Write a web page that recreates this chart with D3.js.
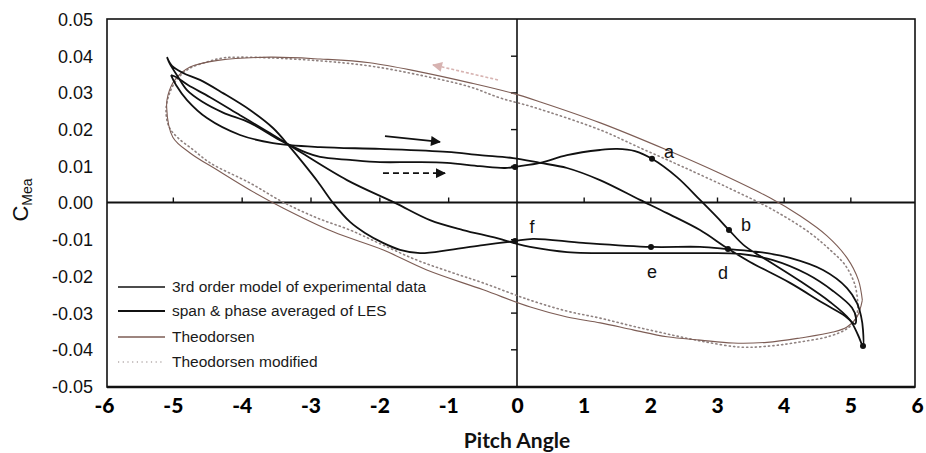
<!DOCTYPE html>
<html><head><meta charset="utf-8">
<script src="https://cdn.jsdelivr.net/npm/d3@7"></script>
<style>
body{margin:0;background:#fff;}
svg{display:block;}
</style>
</head><body>
<svg id="chart" width="926" height="453"></svg>
<script>
// Axis ticks
const xTicks = [-6,-5,-4,-3,-2,-1,0,1,2,3,4,5,6];
const xInnerTicks = [-5,-4,-3,-2,-1,1,2,3,4,5];
const yTicks = [0.05,0.04,0.03,0.02,0.01,0,-0.01,-0.02,-0.03,-0.04,-0.05];

// Span & phase averaged LES (pitch angle, moment coefficient)
const lesX = [-5.085,-5.041,-4.94,-4.794,-4.577,-4.271,-3.879,-3.443,-3.051,-2.862,-2.426,-1.99,-1.482,-1.017,-0.538,-0.174,0.045,0.345,0.75,1.245,1.5,1.77,2.025,2.4,2.745,3.0,3.18,3.42,3.795,4.245,4.695,4.995,5.115,5.19,5.19,5.16,5.1,4.95,4.59,4.095,3.645,3.165,2.745,2.01,0.99,0.24,-0.029,-0.247,-0.494,-0.973,-1.409,-1.7,-1.947,-2.208,-2.426,-2.673,-2.891,-3.109,-3.298,-3.545,-3.879,-4.271,-4.606,-4.853,-5.012,-5.085];
const lesY = [0.0396,0.0377,0.0347,0.0306,0.0275,0.0245,0.0217,0.0170,0.0135,0.0124,0.0116,0.0110,0.0110,0.0108,0.0099,0.0094,0.0099,0.0108,0.0129,0.0143,0.0146,0.0140,0.0119,0.0069,0.0007,-0.0040,-0.0075,-0.0119,-0.0162,-0.0214,-0.0271,-0.0320,-0.0361,-0.0391,-0.0347,-0.0309,-0.0274,-0.0233,-0.0184,-0.0151,-0.0135,-0.0127,-0.0121,-0.0121,-0.0110,-0.0099,-0.0105,-0.0110,-0.0116,-0.0129,-0.0138,-0.0129,-0.0110,-0.0083,-0.0053,-0.0001,0.0056,0.0108,0.0151,0.0203,0.0252,0.0298,0.0334,0.0353,0.0372,0.0396];

// 3rd order model of experimental data
const modelX = [-5.027,-4.954,-4.794,-4.504,-4.024,-3.545,-2.862,-1.99,-1.017,-0.538,-0.058,0.345,0.75,1.245,1.845,2.25,2.745,3.15,3.495,4.095,4.59,4.92,5.07,5.085,5.025,4.74,4.35,3.84,3.345,2.745,1.74,0.75,0.195,0.0,-0.291,-0.785,-1.264,-1.772,-2.47,-3.153,-3.589,-4.024,-4.46,-4.78,-4.954,-5.027];
const modelY = [0.0347,0.0320,0.0279,0.0230,0.0184,0.0162,0.0151,0.0146,0.0138,0.0129,0.0121,0.0108,0.0094,0.0061,0.0007,-0.0029,-0.0075,-0.0124,-0.0162,-0.0219,-0.0274,-0.0309,-0.0331,-0.0315,-0.0287,-0.0241,-0.0195,-0.0157,-0.0140,-0.0138,-0.0138,-0.0135,-0.0121,-0.0113,-0.0097,-0.0075,-0.0048,-0.0001,0.0061,0.0138,0.0189,0.0238,0.0287,0.0320,0.0342,0.0347];

// Theodorsen
const theoX = [5.18,5.12,4.95,4.65,4.25,3.80,3.00,2.25,1.25,0.35,-0.07,-0.68,-1.41,-2.14,-2.86,-3.59,-4.32,-4.75,-4.97,-5.07,-5.09,-5.00,-4.75,-4.36,-3.88,-3.40,-2.67,-1.95,-1.31,-0.49,0.20,0.75,1.25,1.74,2.25,2.75,3.24,3.75,4.25,4.74,4.95,5.10,5.18];
const theoY = [-0.0266,-0.0211,-0.0151,-0.0091,-0.0037,0.0012,0.0083,0.0143,0.0217,0.0274,0.0298,0.0326,0.0356,0.0381,0.0391,0.0396,0.0388,0.0369,0.0334,0.0293,0.0260,0.0178,0.0135,0.0089,0.0034,-0.0015,-0.0080,-0.0129,-0.0184,-0.0238,-0.0285,-0.0312,-0.0328,-0.0347,-0.0366,-0.0375,-0.0383,-0.0381,-0.0369,-0.0353,-0.0339,-0.0312,-0.0266];

// Theodorsen modified
const theoModX = [5.115,5.07,4.92,4.695,4.395,3.84,3.24,2.49,1.845,1.245,0.24,-0.247,-0.683,-1.409,-2.136,-2.862,-3.589,-4.024,-4.271,-4.504,-4.751,-4.925,-5.041,-5.099,-5.055,-4.925,-4.707,-4.46,-3.879,-3.40,-2.906,-2.426,-1.947,-1.453,-0.973,-0.494,0.195,0.75,1.245,1.74,2.25,2.745,3.345,3.795,4.245,4.695,4.965,5.085,5.115];
const theoModY = [-0.0279,-0.0225,-0.0170,-0.0129,-0.0083,-0.0020,0.0034,0.0097,0.0149,0.0198,0.0260,0.0285,0.0315,0.0347,0.0372,0.0386,0.0394,0.0396,0.0394,0.0383,0.0366,0.0339,0.0301,0.0252,0.0206,0.0176,0.0144,0.0108,0.0053,0.0001,-0.0042,-0.0075,-0.0116,-0.0157,-0.0189,-0.0219,-0.0266,-0.0296,-0.0315,-0.0337,-0.0358,-0.0377,-0.0394,-0.0391,-0.0380,-0.0364,-0.0342,-0.0315,-0.0279];

// Marked points on the LES cycle
const markNames = ['a','b','d','e','f','',''];
const markX = [2.025,3.18,3.165,2.01,-0.029,5.19,-0.029];
const markY = [0.0119,-0.0075,-0.0127,-0.0121,-0.0105,-0.0391,0.0097];

// Direction arrows [x0, y0, x1, y1]
const arrowSolid = [-1.918,0.0181,-1.119,0.0165];
const arrowDashed = [-1.947,0.0080,-1.046,0.0080];
const arrowTheo = [-0.276,0.0334,-1.220,0.0375];

const legendLabels = ['3rd order model of experimental data','span & phase averaged of LES','Theodorsen','Theodorsen modified'];

const svg = d3.select('#chart');
const x = d3.scaleLinear().domain([-6,0,6]).range([104,517,917]);
const y = d3.scaleLinear().domain([-0.05,0.05]).range([386,19]);

const frame = {left:107, right:915, top:19, bottom:387};
const ink = '#111';
const theoColor = '#7d5d55';
const theoModColor = '#8f8280';
const sans = '"Liberation Sans", Arial, sans-serif';

// frame
svg.append('rect').attr('x',frame.left).attr('y',frame.top)
  .attr('width',frame.right-frame.left).attr('height',frame.bottom-frame.top)
  .attr('fill','none').attr('stroke',ink).attr('stroke-width',1.6);
svg.append('line').attr('x1',frame.left).attr('x2',frame.right)
  .attr('y1',frame.bottom).attr('y2',frame.bottom).attr('stroke',ink).attr('stroke-width',2.6);

// zero axes through the origin
svg.append('line').attr('x1',frame.left).attr('x2',frame.right)
  .attr('y1',y(0)).attr('y2',y(0)).attr('stroke',ink).attr('stroke-width',1.8);
svg.append('line').attr('x1',x(0)).attr('x2',x(0))
  .attr('y1',frame.top).attr('y2',frame.bottom).attr('stroke',ink).attr('stroke-width',1.6);

const innerX = svg.append('g').attr('transform',`translate(0,${y(0)})`)
  .call(d3.axisTop(x).tickValues(xInnerTicks).tickSize(5).tickFormat(''));
innerX.select('.domain').remove();
innerX.selectAll('line').attr('stroke',ink).attr('stroke-width',1.4);

const innerY = svg.append('g').attr('transform',`translate(${x(0)},0)`)
  .call(d3.axisLeft(y).tickValues(yTicks.filter(v => v !== 0 && Math.abs(v) < 0.05)).tickSize(6).tickFormat(''));
innerY.select('.domain').remove();
innerY.selectAll('line').attr('stroke',ink).attr('stroke-width',1.4);

// tick labels
const yAxis = svg.append('g').attr('transform','translate(93,0)')
  .call(d3.axisLeft(y).tickValues(yTicks).tickSize(0).tickPadding(0).tickFormat(d => d.toFixed(2)));
yAxis.select('.domain').remove();
yAxis.selectAll('text').attr('font-family',sans)
  .attr('font-size',18).attr('fill','#111').attr('dy','0.36em');

const xAxis = svg.append('g').attr('transform','translate(0,396)')
  .call(d3.axisBottom(x).tickValues(xTicks).tickSize(0).tickPadding(0).tickFormat(d => String(d)));
xAxis.select('.domain').remove();
xAxis.selectAll('text').attr('font-family','Lato, "Open Sans", sans-serif')
  .attr('font-weight',900).attr('font-size',21).attr('fill','#000').attr('dy','0.82em');

// axis titles
svg.append('text').attr('x',517).attr('y',448).attr('text-anchor','middle')
  .attr('font-family','Lato, "Open Sans", sans-serif').attr('font-weight',700)
  .attr('font-size',21).attr('fill','#111').text('Pitch Angle');
const yTitle = svg.append('text').attr('transform','translate(28,200) rotate(-90)')
  .attr('text-anchor','middle').attr('font-family',sans).attr('fill','#111');
yTitle.append('tspan').attr('font-size',22).text('C');
yTitle.append('tspan').attr('font-size',14).attr('dy',4).text('Mea');

// curves
const line = d3.line().x(d => x(d[0])).y(d => y(d[1])).curve(d3.curveCatmullRom.alpha(0.5));
const pts = (xs, ys) => xs.map((v,i) => [v, ys[i]]);

svg.append('path').datum(pts(theoModX, theoModY)).attr('d', line)
  .attr('fill','none').attr('stroke',theoModColor).attr('stroke-width',1.6)
  .attr('stroke-dasharray','1.2,3.2').attr('stroke-linecap','round');
svg.append('path').datum(pts(theoX, theoY)).attr('d', line)
  .attr('fill','none').attr('stroke',theoColor).attr('stroke-width',1.1);
svg.append('path').datum(pts(modelX, modelY)).attr('d', line)
  .attr('fill','none').attr('stroke',ink).attr('stroke-width',1.8);
svg.append('path').datum(pts(lesX, lesY)).attr('d', line)
  .attr('fill','none').attr('stroke',ink).attr('stroke-width',1.8);

// marked points
const marks = markX.map((v,i) => ({x:v, y:markY[i], name:markNames[i]}));
svg.selectAll('circle.mark').data(marks)
  .join('circle').attr('class','mark')
  .attr('cx', d => x(d.x)).attr('cy', d => y(d.y)).attr('r', 3).attr('fill', ink);
const labelOffset = {a:[17,-1], b:[17,1], d:[-5,30], e:[1,31], f:[17,-8]};
svg.selectAll('text.mark').data(marks.filter(d => d.name))
  .join('text').attr('class','mark')
  .attr('x', d => x(d.x) + labelOffset[d.name][0]).attr('y', d => y(d.y) + labelOffset[d.name][1])
  .attr('text-anchor','middle').attr('font-family',sans)
  .attr('font-size',18).attr('fill','#111').text(d => d.name);

// arrows
const defs = svg.append('defs');
function head(id, color, w, h) {
  defs.append('marker').attr('id', id).attr('viewBox','0 0 10 10').attr('refX',9).attr('refY',5)
    .attr('markerWidth', w).attr('markerHeight', h).attr('markerUnits','userSpaceOnUse').attr('orient','auto')
    .append('path').attr('d','M0,0L10,5L0,10Z').attr('fill', color);
}
head('hBlack', ink, 14, 10);
head('hTheo', '#d7b3b1', 13, 10);
function arrow(a, color, width, dash, marker) {
  svg.append('line').attr('x1', x(a[0])).attr('y1', y(a[1])).attr('x2', x(a[2])).attr('y2', y(a[3]))
    .attr('stroke', color).attr('stroke-width', width).attr('stroke-dasharray', dash)
    .attr('marker-end', `url(#${marker})`);
}
arrow(arrowSolid, ink, 1.8, null, 'hBlack');
arrow(arrowDashed, ink, 1.8, '6,4', 'hBlack');
arrow(arrowTheo, '#d7b3b1', 1.6, '3,2', 'hTheo');

// legend
const legendStyles = [
  {stroke: ink, width: 1.3, dash: null},
  {stroke: ink, width: 2.0, dash: null},
  {stroke: theoColor, width: 1.3, dash: null},
  {stroke: theoModColor, width: 1.2, dash: '1.2,3.5'}
];
const legendRowY = [287, 311, 337, 362];
const legend = svg.append('g');
legendLabels.forEach((label, i) => {
  legend.append('line').attr('x1',118).attr('x2',165).attr('y1',legendRowY[i]).attr('y2',legendRowY[i])
    .attr('stroke', legendStyles[i].stroke).attr('stroke-width', legendStyles[i].width)
    .attr('stroke-dasharray', legendStyles[i].dash);
  legend.append('text').attr('x',172).attr('y',legendRowY[i]).attr('dy','0.35em')
    .attr('font-family',sans).attr('font-size',15.5)
    .attr('fill','#1a1a1a').text(label);
});
</script>
</body></html>
